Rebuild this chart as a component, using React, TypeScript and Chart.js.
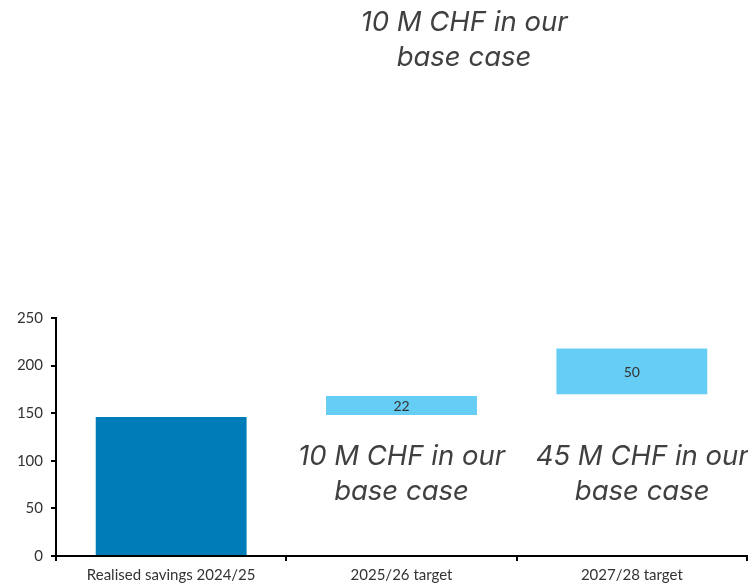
import React, { useEffect, useRef } from "react";
import { Chart, registerables } from "chart.js";

Chart.register(...registerables);

const categories = ["Realised savings 2024/25", "2025/26 target", "2027/28 target"];
const barStart = [0, 148, 170];
const barEnd = [146, 168, 218];
const barLabels = ["", "22", "50"];
const barColors = ["#007DB8", "#66CDF4", "#66CDF4"];
const yTicks = [0, 50, 100, 150, 200, 250];

// in-chart annotations: [x category position, y value, text]
const noteLines: [number, number, string][] = [
  [1, 104, "10 M CHF in our"],
  [1, 68, "base case"],
  [2.045, 104, "45 M CHF in our"],
  [2.045, 68, "base case"],
];
const headerLines = ["10 M CHF in our", "base case"];

const annoFont = "italic 27.5px Inter";
const textColor = "#404040";

const notesPlugin = {
  id: "notes",
  afterDatasetsDraw(chart: any) {
    const ctx = chart.ctx;
    const xs = chart.scales.x;
    const ys = chart.scales.y;
    ctx.save();
    const meta = chart.getDatasetMeta(0);
    ctx.font = "14px Lato";
    ctx.fillStyle = "#333333";
    ctx.textAlign = "center";
    ctx.textBaseline = "middle";
    meta.data.forEach((el: any, i: number) => {
      const t = barLabels[i];
      if (!t) return;
      const p = el.getProps(["x", "y", "base"], true);
      ctx.fillText(t, p.x, (p.y + p.base) / 2 + 1);
    });
    ctx.font = annoFont;
    ctx.fillStyle = textColor;
    noteLines.forEach(([cx, v, t]) => {
      ctx.fillText(t, xs.getPixelForValue(cx), ys.getPixelForValue(v));
    });
    headerLines.forEach((t, i) => {
      ctx.fillText(t, 464, 23 + i * 35);
    });
    ctx.restore();
  },
};

export default function App() {
  const ref = useRef<HTMLCanvasElement>(null);
  useEffect(() => {
    if (!ref.current) return;
    const chart = new Chart(ref.current, {
      type: "bar",
      data: {
        labels: categories,
        datasets: [
          {
            data: barStart.map((s, i) => [s, barEnd[i]]) as any,
            backgroundColor: barColors,
            borderWidth: 0,
            barPercentage: 0.655,
            categoryPercentage: 1,
          },
        ],
      },
      options: {
        responsive: false,
        animation: false,
        layout: { padding: { top: 318, right: 1, left: 0, bottom: 0 } },
        plugins: { legend: { display: false }, tooltip: { enabled: false } },
        scales: {
          x: {
            offset: true,
            grid: {
              offset: true,
              drawOnChartArea: false,
              drawTicks: true,
              tickLength: 5,
              color: "#000",
              lineWidth: 2,
            },
            border: { color: "#000", width: 2 },
            ticks: {
              font: { family: "Lato", size: 15 },
              color: "#333333",
              padding: 5,
              maxRotation: 0,
            },
            afterFit: (s: any) => {
              s.height = 30;
            },
          },
          y: {
            min: 0,
            max: 250,
            afterBuildTicks: (s: any) => {
              s.ticks = yTicks.map((v) => ({ value: v }));
            },
            grid: {
              drawOnChartArea: false,
              drawTicks: true,
              tickLength: 5,
              color: "#000",
              lineWidth: 2,
            },
            border: { color: "#000", width: 2 },
            ticks: {
              font: { family: "Lato", size: 15 },
              color: "#333333",
              padding: 8,
            },
            afterFit: (s: any) => {
              s.width = 56;
            },
          },
        },
      },
      plugins: [notesPlugin],
    });
    return () => chart.destroy();
  }, []);
  return (
    <div style={{ position: "absolute", left: 0, top: 0, width: 748, height: 586, background: "#fff" }}>
      <canvas ref={ref} width={748} height={586} />
    </div>
  );
}
